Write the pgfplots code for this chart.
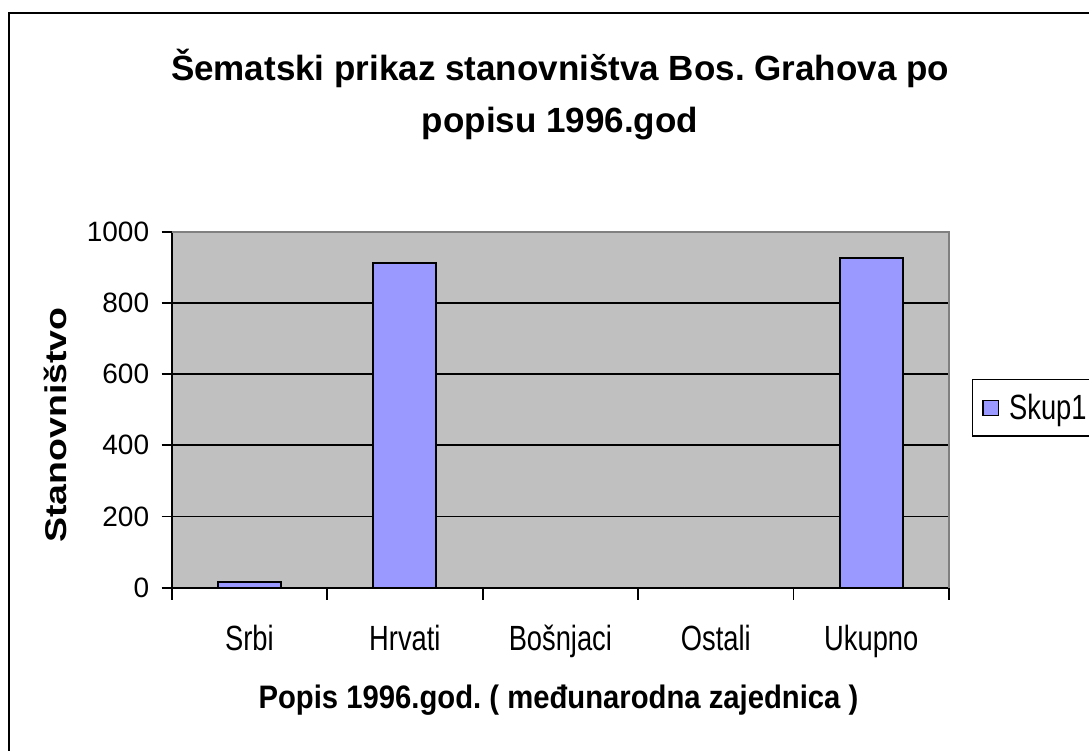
\documentclass[border=0pt]{standalone}
\usepackage{fontspec}
\setmainfont{Liberation Sans}
\newfontfamily\narrowfont{Liberation Sans}[FakeStretch=0.78]
\newfontfamily\xlabfont{Liberation Sans}[FakeStretch=0.9]
\newfontfamily\ylabfont{Liberation Sans}[FakeStretch=1.25]
\usepackage{pgfplots}
\pgfplotsset{compat=1.18}
\definecolor{barblue}{HTML}{9999FF}
\definecolor{plotgray}{HTML}{C0C0C0}
\definecolor{bordergray}{HTML}{808080}
\frenchspacing

\begin{document}
\begin{tikzpicture}
\useasboundingbox (0pt,0pt) rectangle (544.5pt,-375.5pt);
\begin{scope}[x=0.5pt,y=-0.5pt]
\draw[line width=1.2pt] (8.7,1000) -- (8.7,12.8) -- (1200,12.8);
\end{scope}
\begin{axis}[
  scale only axis, width=388.65pt, height=178pt,
  at={(85.85pt,-293.85pt)}, anchor=south west,
  xmin=-0.5, xmax=4.5, ymin=0, ymax=1000,
  xtick={-0.5,0.5,1.5,2.5,3.5,4.5},
  x tick label as interval,
  xticklabels={Srbi,Hrvati,Bošnjaci,Ostali,Ukupno},
  ytick={0,200,400,600,800,1000},
  ymajorgrids, grid style={black, line width=0.9pt},
  axis lines*=left, axis line style={black, line width=1pt, -},
  tick align=outside,
  tick style={black, line width=0.9pt},
  xtick style={/pgfplots/major tick length=6pt},
  ytick style={/pgfplots/major tick length=5pt},
  axis background/.style={fill=plotgray},
  ybar, bar width=31.5pt,
  /pgf/number format/assume math mode=true,
  /pgf/number format/1000 sep={},
  yticklabel style={font=\fontsize{14}{16}\selectfont, xshift=-3.5pt},
  xticklabel style={font=\narrowfont\fontsize{17.5}{20}\selectfont, yshift=-11pt},
  title={Šematski prikaz stanovništva Bos. Grahova po\\popisu 1996.god},
  title style={at={(0.4996,1.4261)}, anchor=base, align=center, yshift=-32pt, font=\bfseries\fontsize{17.5}{26}\selectfont},
  xlabel={Popis 1996.god. ( međunarodna zajednica )},
  xlabel style={at={(0.4976,-0.3407)}, anchor=base, font=\xlabfont\bfseries\fontsize{16.25}{19}\selectfont},
  ylabel={Stanovništvo},
  ylabel style={at={(-0.1351,0.457)}, anchor=base, font=\ylabfont\bfseries\fontsize{15}{18}\selectfont},
  legend style={at={(1.0292,0.5862)}, anchor=north west, draw=black, line width=0.7pt, fill=white,
    font=\narrowfont\fontsize{17.5}{20}\selectfont, inner xsep=5pt, inner ysep=5pt},
  legend image code/.code={\draw[fill=barblue,draw=black,line width=0.6pt] (0pt,-3.9pt) rectangle (7.8pt,3.9pt);},
  after end axis/.code={\draw[bordergray, line width=1pt] (rel axis cs:0,1) -- (rel axis cs:1,1) -- (rel axis cs:1,0);},
]
\addplot[fill=barblue, draw=black, line width=0.9pt] coordinates {(0,15) (1,911) (2,0) (3,0) (4,926)};
\addlegendentry{\hspace*{3pt}Skup1\hspace*{40pt}}
\end{axis}
\end{tikzpicture}
\end{document}
